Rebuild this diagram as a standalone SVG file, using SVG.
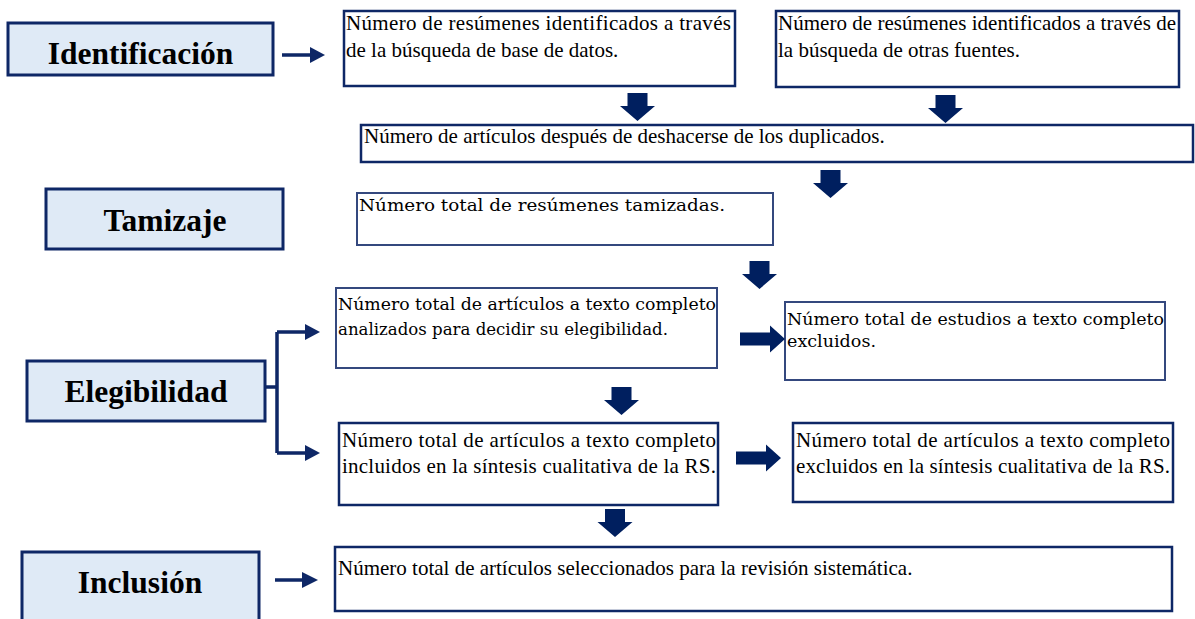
<svg xmlns="http://www.w3.org/2000/svg" width="1195" height="619" viewBox="0 0 1195 619">
<style>
.lbl{fill:#DFEAF6;stroke:#0E2766;stroke-width:3}
.box{fill:#fff;stroke:#0E2766;stroke-width:2.5}
.box2{fill:#fff;stroke:#34487E;stroke-width:2}
.lt{font-family:"Liberation Serif","Times New Roman",serif;font-weight:bold;font-size:31.5px;fill:#000;text-anchor:middle}
.t{font-family:"Liberation Serif","Times New Roman",serif;font-size:21px;fill:#000}
.t2{font-family:"DejaVu Serif","Liberation Serif",serif;font-size:17px;fill:#000}
.ln{fill:none;stroke:#0E2766;stroke-width:3.5}
.hd{fill:#0E2766}
.blk{fill:#001F5F}
</style>
<defs>
<path id="down" d="M-10 0 H10 V13 H17.5 L0 28 L-17.5 13 H-10 Z"/>
<path id="right" d="M0 -6.5 H30 V-13.5 L45 0 L30 13.5 V6.5 H0 Z"/>
</defs>

<g id="n-identificacion">
<rect class="lbl" x="8" y="23" width="265" height="52"/>
<text class="lt" x="140.5" y="64">Identificación</text>
</g>
<g id="n-tamizaje">
<rect class="lbl" x="46" y="189" width="237" height="60"/>
<text class="lt" x="165" y="231">Tamizaje</text>
</g>
<g id="n-elegibilidad">
<rect class="lbl" x="27" y="361" width="238" height="60"/>
<text class="lt" x="146" y="402">Elegibilidad</text>
</g>
<g id="n-inclusion">
<rect class="lbl" x="22" y="552" width="237" height="75"/>
<text class="lt" x="140" y="593">Inclusión</text>
</g>

<g id="n-bd">
<rect class="box" x="344" y="11" width="391" height="75"/>
<text class="t" x="346" y="30" textLength="385" lengthAdjust="spacing">Número de resúmenes identificados a través</text>
<text class="t" x="346" y="57">de la búsqueda de base de datos.</text>
</g>
<g id="n-otras">
<rect class="box" x="776" y="11" width="403" height="76"/>
<text class="t" x="778" y="30" textLength="398" lengthAdjust="spacing">Número de resúmenes identificados a través de</text>
<text class="t" x="778" y="57">la búsqueda de otras fuentes.</text>
</g>
<g id="n-duplicados">
<rect class="box" x="361" y="125" width="832" height="37"/>
<text class="t" x="364" y="143">Número de artículos después de deshacerse de los duplicados.</text>
</g>
<g id="n-tamizadas">
<rect class="box2" x="357" y="193" width="416" height="52"/>
<text class="t2" x="359" y="211" textLength="366" lengthAdjust="spacingAndGlyphs">Número total de resúmenes tamizadas.</text>
</g>
<g id="n-analizados">
<rect class="box2" x="336" y="288" width="381" height="80"/>
<text class="t2" x="338" y="310" textLength="378" lengthAdjust="spacingAndGlyphs">Número total de artículos a texto completo</text>
<text class="t2" x="338" y="335" textLength="330" lengthAdjust="spacingAndGlyphs">analizados para decidir su elegibilidad.</text>
</g>
<g id="n-excluidos">
<rect class="box2" x="785" y="302" width="380" height="78"/>
<text class="t2" x="787" y="325" textLength="377" lengthAdjust="spacingAndGlyphs">Número total de estudios a texto completo</text>
<text class="t2" x="787" y="347" textLength="89" lengthAdjust="spacingAndGlyphs">excluidos.</text>
</g>
<g id="n-incluidos-rs">
<rect class="box" x="339" y="423" width="379" height="82"/>
<text class="t" x="342" y="447" textLength="374" lengthAdjust="spacing">Número total de artículos a texto completo</text>
<text class="t" x="342" y="473" textLength="374" lengthAdjust="spacing">incluidos en la síntesis cualitativa de la RS.</text>
</g>
<g id="n-excluidos-rs">
<rect class="box" x="793" y="423" width="380" height="79"/>
<text class="t" x="796" y="447" textLength="374" lengthAdjust="spacing">Número total de artículos a texto completo</text>
<text class="t" x="796" y="473" textLength="374" lengthAdjust="spacing">excluidos en la síntesis cualitativa de la RS.</text>
</g>
<g id="n-seleccionados">
<rect class="box" x="335" y="547" width="837" height="64"/>
<text class="t" x="338" y="575">Número total de artículos seleccionados para la revisión sistemática.</text>
</g>

<g id="connectors">
<path class="ln" d="M282 55 H312"/>
<polygon class="hd" points="310,47 325,55 310,63"/>
<path class="ln" d="M275 580 H305"/>
<polygon class="hd" points="302,572 318,580 302,588"/>
<path class="ln" d="M265 387 H277 M277 332 V453 M277 332 H307 M277 453 H307"/>
<polygon class="hd" points="305,324 320,332 305,340"/>
<polygon class="hd" points="305,445 320,453 305,461"/>
<use href="#down" class="blk" x="637.5" y="93"/>
<use href="#down" class="blk" x="945.5" y="95"/>
<use href="#down" class="blk" x="830.5" y="170"/>
<use href="#down" class="blk" x="759.5" y="261"/>
<use href="#down" class="blk" x="621.5" y="387"/>
<use href="#down" class="blk" x="615" y="509"/>
<use href="#right" class="blk" x="740" y="339"/>
<use href="#right" class="blk" x="736" y="458"/>
</g>
</svg>
